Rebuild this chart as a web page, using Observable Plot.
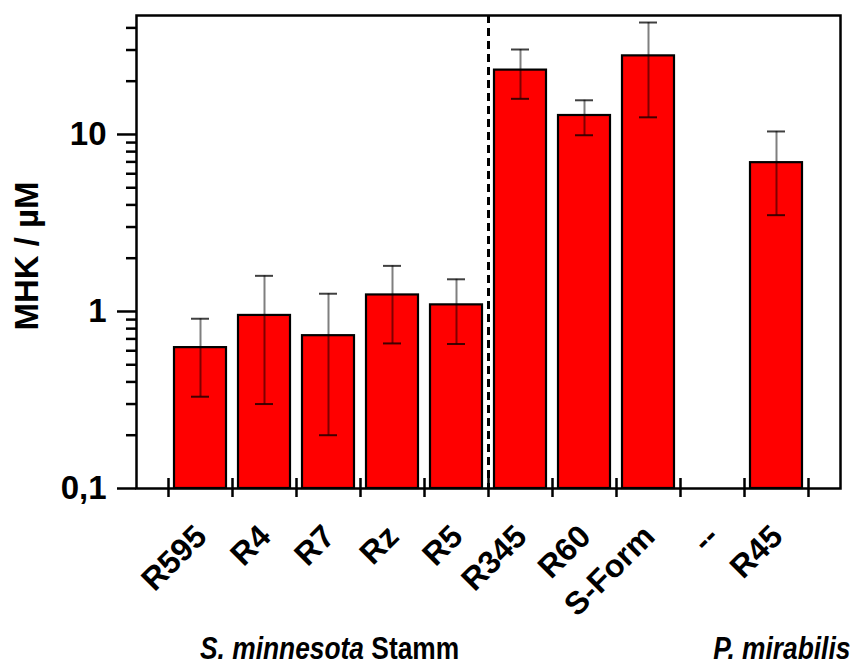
<!DOCTYPE html>
<html>
<head>
<meta charset="utf-8">
<script src="https://cdn.jsdelivr.net/npm/d3@7"></script>
<script src="https://cdn.jsdelivr.net/npm/@observablehq/plot@0.6"></script>
<style>
  body { margin: 0; background: #fff; }
  #wrap { position: relative; width: 854px; height: 666px; font-family: "Liberation Sans", Arial, sans-serif; }
  .cap { position: absolute; font-weight: bold; font-size: 31px; line-height: 1; white-space: nowrap; }
</style>
</head>
<body>
<div id="wrap">
  <div id="chart"></div>
  <div class="cap" style="left:200px; top:633px; transform: scaleX(0.85); transform-origin: left top;"><i>S. minnesota</i> Stamm</div>
  <div class="cap" style="right:4px; top:633px; transform: scaleX(0.85); transform-origin: right top;"><i>P. mirabilis</i></div>
</div>
<script>
const categories = ["R595", "R4", "R7", "Rz", "R5", "R345", "R60", "S-Form", "--", "R45"];
const values     = [0.625, 0.95, 0.73, 1.24, 1.09, 23.1, 12.8, 27.8, null, 6.93];
const errLow     = [0.33, 0.30, 0.20, 0.66, 0.655, 15.9, 9.9, 12.5, null, 3.5];
const errHigh    = [0.91, 1.59, 1.26, 1.81, 1.52, 30.2, 15.6, 42.9, null, 10.4];
const yTicks = [0.1, 1, 10];
const yTickLabels = ["0,1", "1", "10"];
const yMinorTicks = [0.2, 0.3, 0.4, 0.5, 0.6, 0.7, 0.8, 0.9, 2, 3, 4, 5, 6, 7, 8, 9, 20, 30, 40];
const yDomain = [0.1, 47];
const yTitle = "MHK / µM";
const dividerAfter = "R5";

const rows = categories.map((c, i) => ({cat: c, v: values[i], lo: errLow[i], hi: errHigh[i]}))
  .filter(d => d.v != null);
const lastCat = categories[categories.length - 1];

const font = "Liberation Sans, Arial, sans-serif";

const chart = Plot.plot({
  width: 854,
  height: 666,
  marginLeft: 136,
  marginRight: 14,
  marginTop: 15,
  marginBottom: 178,
  style: {fontFamily: font, background: "white", overflow: "visible"},
  x: {domain: categories, paddingInner: 0, paddingOuter: 0.5, axis: null},
  y: {type: "log", domain: yDomain, axis: null},
  marks: [
    Plot.barY(rows, {x: "cat", y1: 0.1, y2: "v", fill: "#ff0000", stroke: "black", strokeWidth: 2.2, insetLeft: 6, insetRight: 6}),
    Plot.ruleX(rows, {x: "cat", y1: "lo", y2: "hi", stroke: "black", strokeOpacity: 0.5, strokeWidth: 2}),
    Plot.tickY(rows, {x: "cat", y: "hi", stroke: "black", strokeOpacity: 0.75, strokeWidth: 2, insetLeft: 23, insetRight: 23}),
    Plot.tickY(rows, {x: "cat", y: "lo", stroke: "black", strokeOpacity: 0.75, strokeWidth: 2, insetLeft: 23, insetRight: 23}),
    Plot.ruleX([dividerAfter], {x: d => d, dx: 32, stroke: "black", strokeWidth: 3, strokeDasharray: "8,5"}),
    Plot.frame({stroke: "black", strokeWidth: 2.5}),
    // x boundary ticks
    Plot.ruleX(categories, {x: d => d, dx: -32, y1: 0.1, y2: 0.1, insetTop: 9, insetBottom: 10, stroke: "black", strokeWidth: 2.5}),
    Plot.ruleX([lastCat], {x: d => d, dx: 32, y1: 0.1, y2: 0.1, insetTop: 9, insetBottom: 10, stroke: "black", strokeWidth: 2.5}),
    // x labels
    Plot.text(categories, {x: d => d, text: d => d, frameAnchor: "bottom", rotate: -45, textAnchor: "end", dx: 8, dy: 50, fontSize: 32, fontWeight: "bold", fill: "black"}),
    // y axis
    Plot.axisY({ticks: yMinorTicks, tickSize: 10, tickFormat: () => "", strokeWidth: 2.5, label: null}),
    Plot.axisY({ticks: yTicks, tickSize: 19, tickPadding: 11, tickFormat: d => yTickLabels[yTicks.indexOf(d)],
      strokeWidth: 2.5, fontSize: 33, fontWeight: "bold", label: null}),
    Plot.text([yTitle], {frameAnchor: "left", text: d => d, textAnchor: "middle", rotate: -90, dx: -109, dy: 4, fontSize: 33, fontWeight: "bold", fill: "black"})
  ]
});
document.getElementById("chart").appendChild(chart);
</script>
</body>
</html>
